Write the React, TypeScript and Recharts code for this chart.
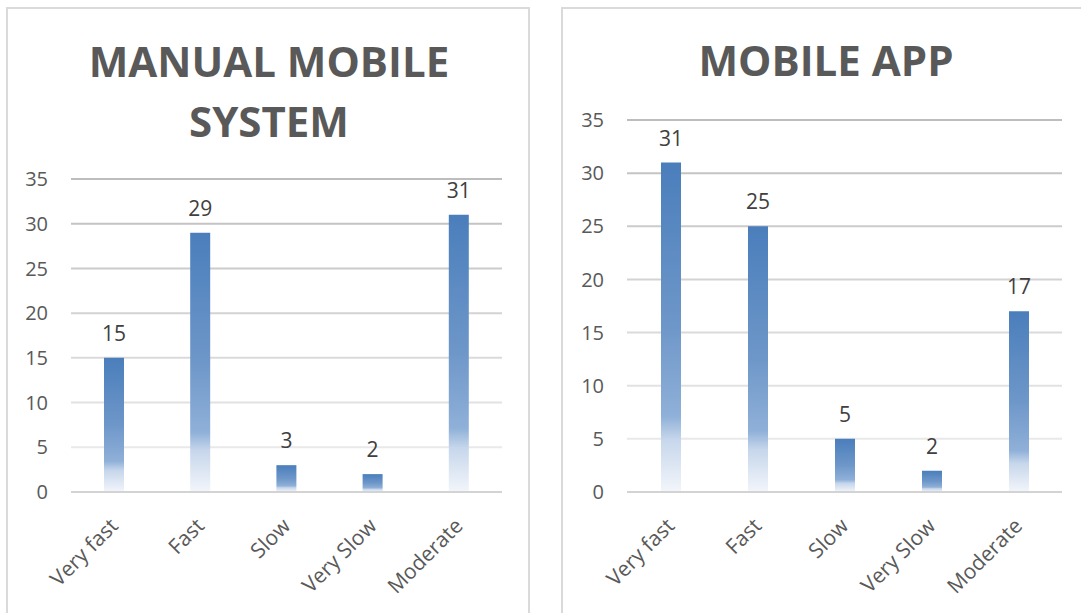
import React from 'react';
import { BarChart, Bar, XAxis, YAxis, CartesianGrid, LabelList } from 'recharts';

const categories = ['Very fast', 'Fast', 'Slow', 'Very Slow', 'Moderate'];
const manualValues = [15, 29, 3, 2, 31];
const appValues = [31, 25, 5, 2, 17];
const yTicks = [0, 5, 10, 15, 20, 25, 30, 35];

const FONT = '"Open Sans", "Noto Sans", sans-serif';

const manualData = categories.map((c, i) => ({ name: c, v: manualValues[i] }));
const appData = categories.map((c, i) => ({ name: c, v: appValues[i] }));

const XTick = (props: any) => {
  const { x, y, payload } = props;
  return (
    <text
      x={x}
      y={y}
      dy="0.35em"
      transform={`rotate(-45 ${x} ${y})`}
      textAnchor="end"
      fill="#595959"
      fontSize={21}
      fontFamily={FONT}
    >
      {payload.value}
    </text>
  );
};

type PanelChartProps = {
  id: string;
  data: { name: string; v: number }[];
  width: number;
  yAxisWidth: number;
  top: number;
  right: number;
};

const PanelChart = ({ id, data, width, yAxisWidth, top, right }: PanelChartProps) => (
  <BarChart
    width={width}
    height={613}
    data={data}
    margin={{ top, right, bottom: 0, left: 0 }}
    barSize={20}
  >
    <defs>
      <linearGradient id={`bar-${id}`} x1="0" y1="0" x2="0" y2="1">
        <stop offset="0" stopColor="#4a7ebb" />
        <stop offset="0.5" stopColor="#6e97c9" />
        <stop offset="0.77" stopColor="#8fb0d8" />
        <stop offset="0.84" stopColor="#c6d6eb" />
        <stop offset="1" stopColor="#f3f6fb" />
      </linearGradient>
      <linearGradient id={`grid-${id}`} gradientUnits="userSpaceOnUse" x1="0" y1={top} x2="0" y2={492}>
        <stop offset="0" stopColor="#bdbdbd" />
        <stop offset="1" stopColor="#f0f0f0" />
      </linearGradient>
    </defs>
    <CartesianGrid vertical={false} stroke={`url(#grid-${id})`} strokeWidth={2} />
    <XAxis
      dataKey="name"
      height={121}
      tickLine={false}
      tickSize={0}
      tickMargin={30}
      axisLine={{ stroke: '#d3d3d3', strokeWidth: 2 }}
      tick={<XTick />}
      interval={0}
    />
    <YAxis
      width={yAxisWidth}
      domain={[0, 35]}
      ticks={yTicks}
      axisLine={false}
      tickLine={false}
      tickSize={0}
      tickMargin={23}
      tick={{ fill: '#595959', fontSize: 20, fontFamily: FONT }}
    />
    <Bar dataKey="v" fill={`url(#bar-${id})`} isAnimationActive={false}>
      <LabelList dataKey="v" position="top" offset={17} fill="#404040" fontSize={21} fontFamily={FONT} />
    </Bar>
  </BarChart>
);

export default function App() {
  return (
    <div
      style={{
        position: 'absolute',
        left: 0,
        top: 0,
        width: 1081,
        height: 613,
        overflow: 'hidden',
        background: '#ffffff',
      }}
    >
      <div
        style={{
          position: 'absolute',
          left: 6,
          top: 7,
          width: 524,
          height: 700,
          border: '2px solid #dadada',
          boxSizing: 'border-box',
        }}
      />
      <div
        style={{
          position: 'absolute',
          left: 561,
          top: 7,
          width: 560,
          height: 700,
          border: '2px solid #dadada',
          boxSizing: 'border-box',
        }}
      />
      <div style={{ position: 'absolute', left: 0, top: 0 }}>
        <PanelChart id="manual" data={manualData} width={540} yAxisWidth={71} top={179} right={38} />
      </div>
      <div style={{ position: 'absolute', left: 540, top: 0 }}>
        <PanelChart id="app" data={appData} width={541} yAxisWidth={87} top={120} right={19} />
      </div>
      <svg
        width={1081}
        height={160}
        style={{ position: 'absolute', left: 0, top: 0, pointerEvents: 'none' }}
      >
        <text x={269} y={77} textAnchor="middle" fill="#595959" fontSize={42} fontWeight={700} fontFamily={FONT}>
          MANUAL MOBILE
        </text>
        <text x={269} y={137} textAnchor="middle" fill="#595959" fontSize={42} fontWeight={700} fontFamily={FONT}>
          SYSTEM
        </text>
        <text x={826} y={76} textAnchor="middle" fill="#595959" fontSize={42} fontWeight={700} fontFamily={FONT}>
          MOBILE APP
        </text>
      </svg>
    </div>
  );
}
